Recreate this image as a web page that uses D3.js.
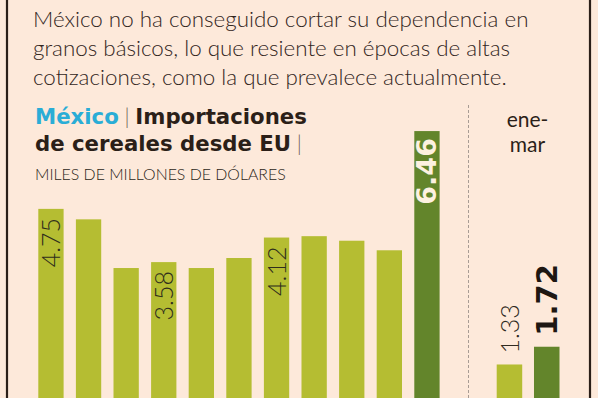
<!DOCTYPE html>
<html>
<head>
<meta charset="utf-8">
<script src="https://cdn.jsdelivr.net/npm/d3@7"></script>
<style>
  html, body { margin: 0; padding: 0; background: #fde9da; }
  svg { display: block; }
</style>
</head>
<body>
<div id="chart"></div>
<script>
// Data
const years = ["2011", "2012", "2013", "2014", "2015", "2016", "2017", "2018", "2019", "2020", "2021"];
const values = [4.75, 4.52, 3.45, 3.58, 3.45, 3.67, 4.12, 4.15, 4.05, 3.84, 6.46];
const labeledYears = ["2011", "2014", "2017", "2021"];
const ytdPeriods = ["2021", "2022"];
const ytdValues = [1.33, 1.72];
const introLines = [
    "México no ha conseguido cortar su dependencia en",
    "granos básicos, lo que resiente en épocas de altas",
    "cotizaciones, como la que prevalece actualmente."
];

const width = 598;
const height = 398;
const light = "#b5bd32";
const dark = "#63852b";
const ink = "#2b1f18";

const svg = d3.select("#chart")
    .append("svg")
    .attr("width", width)
    .attr("height", height);

svg.append("rect")
    .attr("width", width)
    .attr("height", height)
    .attr("fill", "#fde9da");

// frame lines
svg.append("line").attr("x1", 7).attr("x2", 7).attr("y1", 0).attr("y2", height)
    .attr("stroke", ink).attr("stroke-width", 2.2);
svg.append("line").attr("x1", 590).attr("x2", 590).attr("y1", 0).attr("y2", height)
    .attr("stroke", ink).attr("stroke-width", 2.2);

// shrink or grow a text's font size so it takes a given width
function fitWidth(sel, target) {
    const w = sel.node().getComputedTextLength();
    const fs = parseFloat(sel.attr("font-size"));
    const size = fs * target / w;
    sel.attr("font-size", size);
    return size;
}

// Intro paragraph
const intro = svg.append("g")
    .attr("font-family", "Lato, 'Open Sans', sans-serif")
    .attr("font-weight", 300)
    .attr("fill", "#33261d");
const introText = intro.selectAll("text")
    .data(introLines)
    .enter()
    .append("text")
    .attr("x", 33)
    .attr("y", (d, i) => 27 + i * 29)
    .attr("font-size", 22)
    .text(d => d);
const introSize = fitWidth(d3.select(introText.nodes()[0]), 496);
introText.attr("font-size", introSize);

// Title
const boldFont = "'DejaVu Sans', sans-serif";
const thinFont = "Lato, sans-serif";
const title = svg.append("g");
const t1 = title.append("text").attr("x", 35).attr("y", 124).attr("font-size", 20);
t1.append("tspan").attr("font-family", boldFont).attr("font-weight", 700).attr("fill", "#2aadd6").text("México");
t1.append("tspan").attr("font-family", thinFont).attr("font-weight", 300).attr("fill", "#6b5d53").text(" | ");
t1.append("tspan").attr("font-family", boldFont).attr("font-weight", 700).attr("fill", ink).text("Importaciones");
const titleSize = fitWidth(t1, 272);

const t2 = title.append("text").attr("x", 35).attr("y", 151).attr("font-size", titleSize);
t2.append("tspan").attr("font-family", boldFont).attr("font-weight", 700).attr("fill", ink).text("de cereales desde EU");
t2.append("tspan").attr("font-family", thinFont).attr("font-weight", 300).attr("fill", "#6b5d53").text(" |");

const t3 = title.append("text").attr("x", 35).attr("y", 180).attr("font-size", 15)
    .attr("font-family", thinFont)
    .attr("font-weight", 300).attr("fill", ink)
    .text("MILES DE MILLONES DE DÓLARES");
fitWidth(t3, 251);

// Scales
const x = d3.scaleBand()
    .domain(years)
    .range([38.3, 439.6])
    .paddingInner(0.327)
    .paddingOuter(0);

const x2 = d3.scaleBand()
    .domain(ytdPeriods)
    .range([496.7, 559.5])
    .paddingInner(0.316)
    .paddingOuter(0);

const y = d3.scaleLinear()
    .domain([0, 7])
    .range([425, 425 - 7 * 45.5]);

const annual = years.map((yr, i) => ({ year: yr, value: values[i] }));
const ytd = ytdPeriods.map((p, i) => ({ period: p, value: ytdValues[i] }));

// Bars
svg.selectAll(".bar")
    .data(annual)
    .enter()
    .append("rect")
    .attr("class", "bar")
    .attr("x", d => x(d.year))
    .attr("y", d => y(d.value))
    .attr("width", x.bandwidth())
    .attr("height", d => y(0) - y(d.value))
    .attr("fill", (d, i) => i === annual.length - 1 ? dark : light);

svg.selectAll(".ytd")
    .data(ytd)
    .enter()
    .append("rect")
    .attr("class", "ytd")
    .attr("x", d => x2(d.period))
    .attr("y", d => y(d.value))
    .attr("width", x2.bandwidth())
    .attr("height", d => y(0) - y(d.value))
    .attr("fill", (d, i) => i === ytd.length - 1 ? dark : light);

// Value labels inside bars
svg.selectAll(".lbl")
    .data(annual.filter(d => labeledYears.includes(d.year)))
    .enter()
    .append("text")
    .attr("class", "lbl")
    .attr("transform", d => {
        const bold = d.year === "2021";
        const cx = x(d.year) + x.bandwidth() / 2 + 9.5;
        return `translate(${cx},${y(d.value) + (bold ? 7 : 9)}) rotate(-90)`;
    })
    .attr("text-anchor", "end")
    .attr("font-family", d => d.year === "2021" ? boldFont : thinFont)
    .attr("font-weight", d => d.year === "2021" ? 700 : 300)
    .attr("font-size", d => d.year === "2021" ? 27 : 25)
    .attr("fill", d => d.year === "2021" ? "#fdf1e0" : "#2f2e1c")
    .text(d => d.value.toFixed(2));

// Labels above the year-to-date bars
svg.selectAll(".ytdlbl")
    .data(ytd)
    .enter()
    .append("text")
    .attr("class", "ytdlbl")
    .attr("transform", (d, i) => {
        const cx = x2(d.period) + x2.bandwidth() / 2 + (i === 1 ? 10.5 : 9.5);
        return `translate(${cx},${y(d.value) - 11}) rotate(-90)`;
    })
    .attr("text-anchor", "start")
    .attr("font-family", (d, i) => i === 1 ? boldFont : thinFont)
    .attr("font-weight", (d, i) => i === 1 ? 700 : 300)
    .attr("font-size", (d, i) => i === 1 ? 29 : 25)
    .attr("fill", (d, i) => i === 1 ? "#1e1712" : "#2f2a20")
    .text(d => d.value.toFixed(2));

// Divider between annual and year-to-date
svg.append("line")
    .attr("x1", 468.5).attr("x2", 468.5)
    .attr("y1", 105).attr("y2", height)
    .attr("stroke", "#a89c94")
    .attr("stroke-width", 1)
    .attr("stroke-dasharray", "3,2");

const ytdHead = svg.append("text")
    .attr("x", 527.5)
    .attr("text-anchor", "middle")
    .attr("font-family", thinFont)
    .attr("font-size", 21)
    .attr("fill", ink);
ytdHead.append("tspan").attr("x", 527.5).attr("y", 127).text("ene-");
ytdHead.append("tspan").attr("x", 527.5).attr("y", 152).text("mar");
</script>
</body>
</html>
